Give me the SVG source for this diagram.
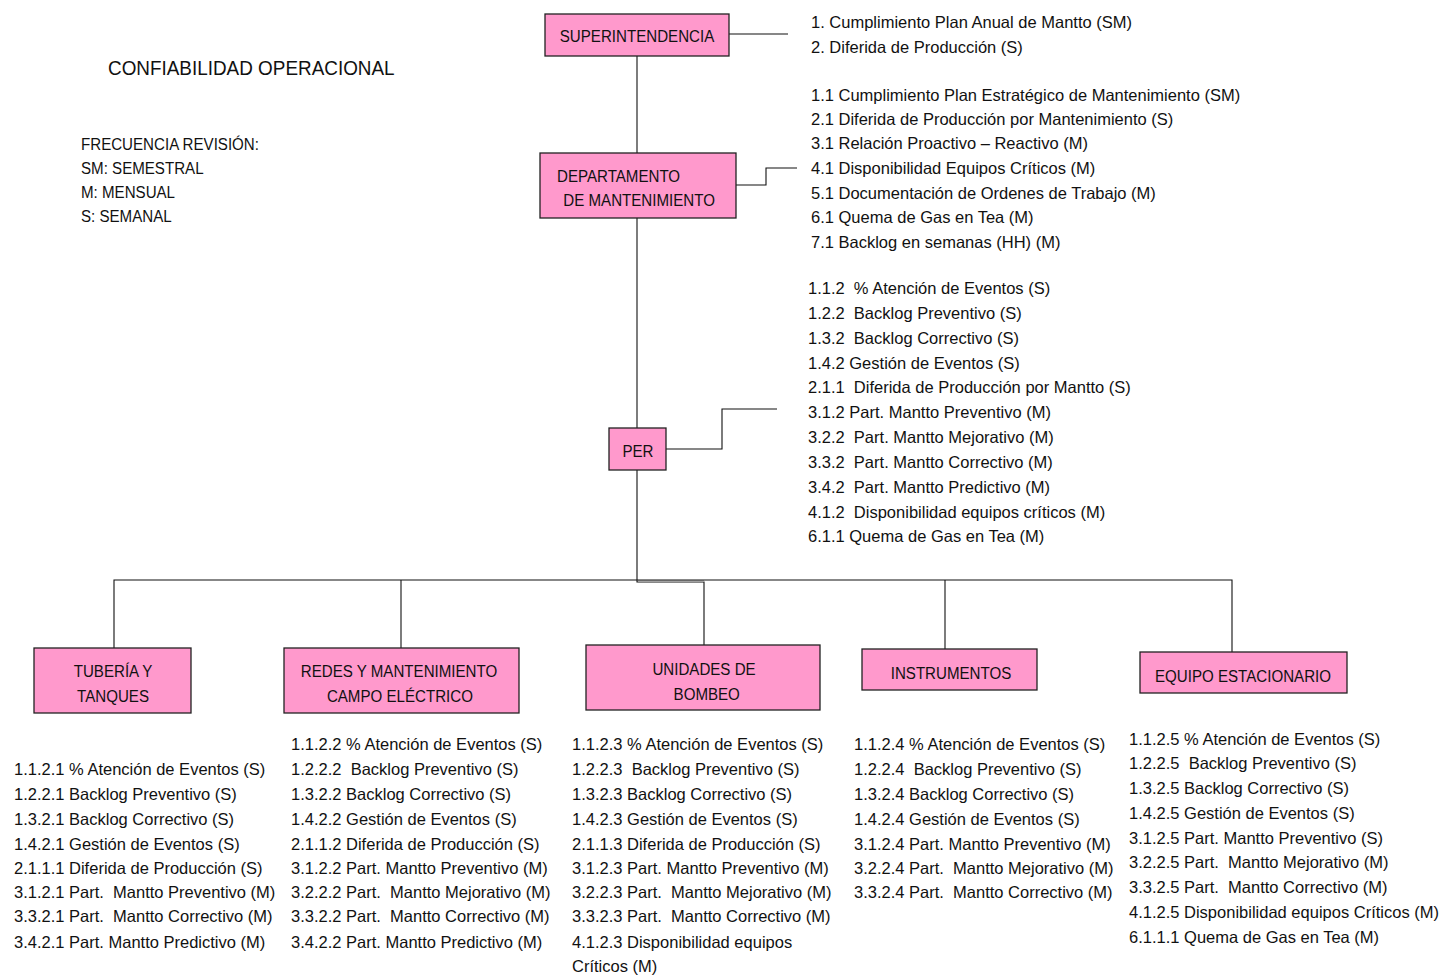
<svg xmlns="http://www.w3.org/2000/svg" width="1439" height="977" viewBox="0 0 1439 977">
  <style>
    text { font-family: "Liberation Sans", Arial, sans-serif; fill: #111; white-space: pre; }
    .box { fill: #ff99cc; stroke: #222; stroke-width: 1.3; }
    .lbl { font-size: 16.8px; text-anchor: middle; }
    .hdr { font-size: 16.8px; }
    .lst { font-size: 16.5px; }
    .title { font-size: 21px; }
    .wire { fill: none; stroke: #111; stroke-width: 1.1; }
  </style>
  <rect width="1439" height="977" fill="#ffffff"/>

  <!-- legend: condensed capitals -->
  <g id="legend">
    <text class="title" transform="translate(108,0) scale(0.9,1)" x="0" y="75">CONFIABILIDAD OPERACIONAL</text>
    <g transform="translate(81,0) scale(0.9,1)" class="hdr">
      <text x="0" y="150">FRECUENCIA REVISIÓN:</text>
      <text x="0" y="174">SM: SEMESTRAL</text>
      <text x="0" y="198">M: MENSUAL</text>
      <text x="0" y="222">S: SEMANAL</text>
    </g>
  </g>

  <!-- connectors -->
  <g id="connectors" class="wire">
    <path d="M637 56 V153"/>
    <path d="M637 218 V428"/>
    <path d="M637 470 V582 H704 V645"/>
    <path d="M638 581 H704" stroke="#aaa" stroke-width="1.5"/>
    <path d="M729 34 H788"/>
    <path d="M736 185 H766 V168 H797"/>
    <path d="M666 449 H722 V409 H777"/>
    <path d="M114 648 V580 H1232 V652"/>
    <path d="M401 580 V648"/>
    <path d="M945 580 V649"/>
  </g>

  <g id="superintendencia">
    <rect class="box" x="545" y="14" width="184" height="42"/>
    <text class="lbl" transform="translate(637,0) scale(0.9,1)" x="0" y="42">SUPERINTENDENCIA</text>
  </g>
  <g id="superintendencia-kpi" class="lst">
    <text x="811" y="28">1. Cumplimiento Plan Anual de Mantto (SM)</text>
    <text x="811" y="53">2. Diferida de Producción (S)</text>
  </g>

  <g id="departamento">
    <rect class="box" x="540" y="153" width="196" height="65"/>
    <g class="hdr" transform="translate(557,0) scale(0.9,1)">
      <text x="0" y="182">DEPARTAMENTO</text>
      <text x="7" y="206">DE MANTENIMIENTO</text>
    </g>
  </g>
  <g id="departamento-kpi" class="lst">
    <text x="811" y="101">1.1 Cumplimiento Plan Estratégico de Mantenimiento (SM)</text>
    <text x="811" y="125">2.1 Diferida de Producción por Mantenimiento (S)</text>
    <text x="811" y="149">3.1 Relación Proactivo – Reactivo (M)</text>
    <text x="811" y="174">4.1 Disponibilidad Equipos Críticos (M)</text>
    <text x="811" y="199">5.1 Documentación de Ordenes de Trabajo (M)</text>
    <text x="811" y="223">6.1 Quema de Gas en Tea (M)</text>
    <text x="811" y="248">7.1 Backlog en semanas (HH) (M)</text>
  </g>

  <g id="per">
    <rect class="box" x="609" y="428" width="57" height="42"/>
    <text class="lbl" transform="translate(638,0) scale(0.9,1)" x="0" y="457">PER</text>
  </g>
  <g id="per-kpi" class="lst">
    <text x="808" y="294">1.1.2  % Atención de Eventos (S)</text>
    <text x="808" y="319">1.2.2  Backlog Preventivo (S)</text>
    <text x="808" y="344">1.3.2  Backlog Correctivo (S)</text>
    <text x="808" y="369">1.4.2 Gestión de Eventos (S)</text>
    <text x="808" y="393">2.1.1  Diferida de Producción por Mantto (S)</text>
    <text x="808" y="418">3.1.2 Part. Mantto Preventivo (M)</text>
    <text x="808" y="443">3.2.2  Part. Mantto Mejorativo (M)</text>
    <text x="808" y="468">3.3.2  Part. Mantto Correctivo (M)</text>
    <text x="808" y="493">3.4.2  Part. Mantto Predictivo (M)</text>
    <text x="808" y="518">4.1.2  Disponibilidad equipos críticos (M)</text>
    <text x="808" y="542">6.1.1 Quema de Gas en Tea (M)</text>
  </g>

  <g id="tuberia">
    <rect class="box" x="34" y="648" width="157" height="65"/>
    <g class="lbl" transform="translate(113,0) scale(0.9,1)">
      <text x="0" y="677">TUBERÍA Y</text>
      <text x="0" y="702">TANQUES</text>
    </g>
  </g>
  <g id="tuberia-kpi" class="lst">
    <text x="14" y="775">1.1.2.1 % Atención de Eventos (S)</text>
    <text x="14" y="800">1.2.2.1 Backlog Preventivo (S)</text>
    <text x="14" y="825">1.3.2.1 Backlog Correctivo (S)</text>
    <text x="14" y="850">1.4.2.1 Gestión de Eventos (S)</text>
    <text x="14" y="874">2.1.1.1 Diferida de Producción (S)</text>
    <text x="14" y="898">3.1.2.1 Part.  Mantto Preventivo (M)</text>
    <text x="14" y="922">3.3.2.1 Part.  Mantto Correctivo (M)</text>
    <text x="14" y="948">3.4.2.1 Part. Mantto Predictivo (M)</text>
  </g>

  <g id="redes">
    <rect class="box" x="284" y="648" width="235" height="65"/>
    <g class="lbl" transform="translate(399,0) scale(0.9,1)">
      <text x="0" y="677">REDES Y MANTENIMIENTO</text>
      <text x="1" y="702">CAMPO ELÉCTRICO</text>
    </g>
  </g>
  <g id="redes-kpi" class="lst">
    <text x="291" y="750">1.1.2.2 % Atención de Eventos (S)</text>
    <text x="291" y="775">1.2.2.2  Backlog Preventivo (S)</text>
    <text x="291" y="800">1.3.2.2 Backlog Correctivo (S)</text>
    <text x="291" y="825">1.4.2.2 Gestión de Eventos (S)</text>
    <text x="291" y="850">2.1.1.2 Diferida de Producción (S)</text>
    <text x="291" y="874">3.1.2.2 Part. Mantto Preventivo (M)</text>
    <text x="291" y="898">3.2.2.2 Part.  Mantto Mejorativo (M)</text>
    <text x="291" y="922">3.3.2.2 Part.  Mantto Correctivo (M)</text>
    <text x="291" y="948">3.4.2.2 Part. Mantto Predictivo (M)</text>
  </g>

  <g id="unidades">
    <rect class="box" x="586" y="645" width="234" height="65"/>
    <g class="lbl" transform="translate(704,0) scale(0.9,1)">
      <text x="0" y="675">UNIDADES DE</text>
      <text x="3" y="700">BOMBEO</text>
    </g>
  </g>
  <g id="unidades-kpi" class="lst">
    <text x="572" y="750">1.1.2.3 % Atención de Eventos (S)</text>
    <text x="572" y="775">1.2.2.3  Backlog Preventivo (S)</text>
    <text x="572" y="800">1.3.2.3 Backlog Correctivo (S)</text>
    <text x="572" y="825">1.4.2.3 Gestión de Eventos (S)</text>
    <text x="572" y="850">2.1.1.3 Diferida de Producción (S)</text>
    <text x="572" y="874">3.1.2.3 Part. Mantto Preventivo (M)</text>
    <text x="572" y="898">3.2.2.3 Part.  Mantto Mejorativo (M)</text>
    <text x="572" y="922">3.3.2.3 Part.  Mantto Correctivo (M)</text>
    <text x="572" y="948">4.1.2.3 Disponibilidad equipos</text>
    <text x="572" y="972">Críticos (M)</text>
  </g>

  <g id="instrumentos">
    <rect class="box" x="862" y="649" width="175" height="41"/>
    <text class="lbl" transform="translate(951,0) scale(0.9,1)" x="0" y="679">INSTRUMENTOS</text>
  </g>
  <g id="instrumentos-kpi" class="lst">
    <text x="854" y="750">1.1.2.4 % Atención de Eventos (S)</text>
    <text x="854" y="775">1.2.2.4  Backlog Preventivo (S)</text>
    <text x="854" y="800">1.3.2.4 Backlog Correctivo (S)</text>
    <text x="854" y="825">1.4.2.4 Gestión de Eventos (S)</text>
    <text x="854" y="850">3.1.2.4 Part. Mantto Preventivo (M)</text>
    <text x="854" y="874">3.2.2.4 Part.  Mantto Mejorativo (M)</text>
    <text x="854" y="898">3.3.2.4 Part.  Mantto Correctivo (M)</text>
  </g>

  <g id="equipo">
    <rect class="box" x="1140" y="652" width="207" height="41"/>
    <text class="lbl" transform="translate(1243,0) scale(0.9,1)" x="0" y="682">EQUIPO ESTACIONARIO</text>
  </g>
  <g id="equipo-kpi" class="lst">
    <text x="1129" y="745">1.1.2.5 % Atención de Eventos (S)</text>
    <text x="1129" y="769">1.2.2.5  Backlog Preventivo (S)</text>
    <text x="1129" y="794">1.3.2.5 Backlog Correctivo (S)</text>
    <text x="1129" y="819">1.4.2.5 Gestión de Eventos (S)</text>
    <text x="1129" y="844">3.1.2.5 Part. Mantto Preventivo (S)</text>
    <text x="1129" y="868">3.2.2.5 Part.  Mantto Mejorativo (M)</text>
    <text x="1129" y="893">3.3.2.5 Part.  Mantto Correctivo (M)</text>
    <text x="1129" y="918">4.1.2.5 Disponibilidad equipos Críticos (M)</text>
    <text x="1129" y="943">6.1.1.1 Quema de Gas en Tea (M)</text>
  </g>
</svg>
